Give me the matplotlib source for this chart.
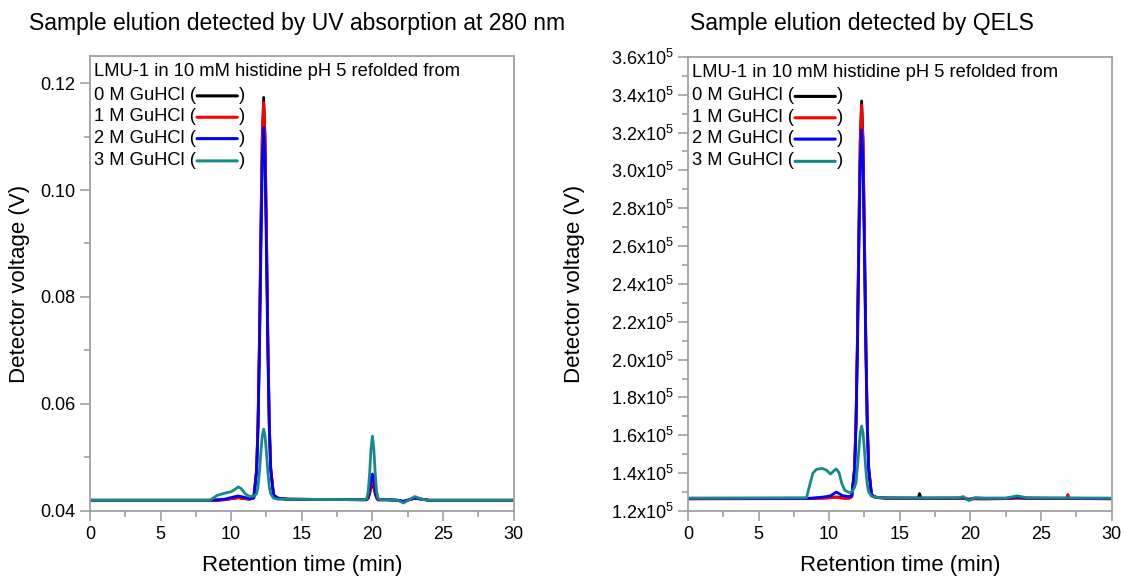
import numpy as np
import matplotlib.pyplot as plt
from matplotlib.ticker import MultipleLocator, FuncFormatter

plt.rcParams['font.family'] = ['Liberation Sans', 'DejaVu Sans']
plt.rcParams['mathtext.fontset'] = 'custom'
plt.rcParams['mathtext.rm'] = 'Liberation Sans'

labels = ['0 M GuHCl (', '1 M GuHCl (', '2 M GuHCl (', '3 M GuHCl (']
colors = ['black', '#ff0000', '#0000ff', '#168a86']
header = 'LMU-1 in 10 mM histidine pH 5 refolded from'

# UV 280 nm traces (V)
t_uv = [0, 8.5, 9.0, 9.5, 10.0, 10.3, 10.5, 10.7, 11.0, 11.3, 11.6, 11.8, 11.9, 12.0,
        12.1, 12.2, 12.3, 12.4, 12.5, 12.6, 12.7, 12.8, 13.0, 13.3, 14.0, 19.5, 19.6,
        19.7, 19.8, 19.9, 20.0, 20.1, 20.2, 20.3, 20.4, 20.6, 21.0, 21.8, 22.2, 22.6,
        23.0, 23.5, 24.0, 30.0]
uv_0m = [0.0420, 0.0420, 0.0420, 0.0421, 0.0423, 0.0424, 0.0425, 0.0424, 0.0423, 0.0422,
         0.0425, 0.0477, 0.0564, 0.0717, 0.0918, 0.1099, 0.1173, 0.1099, 0.0918, 0.0717,
         0.0564, 0.0480, 0.0430, 0.0424, 0.0422, 0.0421, 0.0421, 0.0424, 0.0432, 0.0444,
         0.0450, 0.0444, 0.0432, 0.0424, 0.0421, 0.0421, 0.0421, 0.0420, 0.0418, 0.0421,
         0.0424, 0.0422, 0.0420, 0.0420]
uv_1m = [0.0420, 0.0420, 0.0420, 0.0421, 0.0423, 0.0424, 0.0425, 0.0424, 0.0423, 0.0422,
         0.0425, 0.0476, 0.0562, 0.0714, 0.0913, 0.1091, 0.1164, 0.1091, 0.0913, 0.0714,
         0.0562, 0.0479, 0.0430, 0.0424, 0.0422, 0.0421, 0.0421, 0.0425, 0.0435, 0.0449,
         0.0456, 0.0449, 0.0435, 0.0425, 0.0421, 0.0421, 0.0421, 0.0420, 0.0417, 0.0421,
         0.0424, 0.0422, 0.0420, 0.0420]
uv_2m = [0.0420, 0.0420, 0.0421, 0.0422, 0.0425, 0.0427, 0.0428, 0.0427, 0.0425, 0.0423,
         0.0424, 0.0473, 0.0553, 0.0695, 0.0881, 0.1049, 0.1117, 0.1049, 0.0881, 0.0695,
         0.0553, 0.0476, 0.0429, 0.0424, 0.0422, 0.0421, 0.0422, 0.0427, 0.0440, 0.0459,
         0.0469, 0.0459, 0.0440, 0.0427, 0.0421, 0.0421, 0.0421, 0.0420, 0.0418, 0.0421,
         0.0424, 0.0422, 0.0420, 0.0420]
uv_3m = [0.0420, 0.0420, 0.0429, 0.0433, 0.0436, 0.0441, 0.0445, 0.0442, 0.0432, 0.0427,
         0.0428, 0.0432, 0.0445, 0.0473, 0.0508, 0.0540, 0.0553, 0.0540, 0.0508, 0.0473,
         0.0445, 0.0432, 0.0424, 0.0422, 0.0422, 0.0421, 0.0423, 0.0436, 0.0469, 0.0516,
         0.0540, 0.0516, 0.0469, 0.0436, 0.0423, 0.0421, 0.0421, 0.0420, 0.0415, 0.0421,
         0.0427, 0.0422, 0.0420, 0.0420]

# QELS traces (units of 1e5)
t_qels = [0, 8.4, 8.6, 8.85, 9.1, 9.5, 9.8, 10.1, 10.3, 10.5, 10.7, 10.9, 11.1, 11.4,
          11.6, 11.8, 11.9, 12.0, 12.1, 12.2, 12.3, 12.4, 12.5, 12.6, 12.7, 12.8, 13.0,
          13.3, 14.0, 16.3, 16.4, 16.5, 19.2, 19.5, 19.9, 20.3, 21.0, 22.5, 23.3, 24.0,
          26.8, 26.9, 27.0, 30.0]
qels_0m = [1.265, 1.266, 1.267, 1.267, 1.268, 1.269, 1.270, 1.271, 1.273, 1.274, 1.273,
           1.271, 1.270, 1.269, 1.276, 1.426, 1.668, 2.097, 2.657, 3.161, 3.367, 3.161,
           2.657, 2.097, 1.668, 1.430, 1.285, 1.272, 1.268, 1.267, 1.292, 1.267, 1.267,
           1.268, 1.262, 1.267, 1.266, 1.266, 1.268, 1.267, 1.266, 1.266, 1.266, 1.265]
qels_1m = [1.264, 1.265, 1.265, 1.266, 1.266, 1.267, 1.268, 1.270, 1.271, 1.272, 1.271,
           1.268, 1.266, 1.266, 1.275, 1.424, 1.664, 2.089, 2.644, 3.143, 3.346, 3.143,
           2.644, 2.089, 1.664, 1.428, 1.285, 1.271, 1.267, 1.266, 1.266, 1.266, 1.266,
           1.267, 1.262, 1.264, 1.263, 1.265, 1.272, 1.266, 1.266, 1.287, 1.266, 1.264]
qels_2m = [1.267, 1.266, 1.267, 1.268, 1.270, 1.273, 1.276, 1.280, 1.290, 1.300, 1.292,
           1.283, 1.279, 1.276, 1.280, 1.414, 1.639, 2.036, 2.556, 3.023, 3.214, 3.023,
           2.556, 2.036, 1.639, 1.418, 1.285, 1.273, 1.269, 1.268, 1.268, 1.268, 1.268,
           1.270, 1.258, 1.268, 1.267, 1.267, 1.274, 1.268, 1.267, 1.267, 1.267, 1.266]
qels_3m = [1.268, 1.270, 1.330, 1.400, 1.420, 1.425, 1.416, 1.395, 1.410, 1.422, 1.402,
           1.345, 1.310, 1.298, 1.300, 1.325, 1.350, 1.430, 1.520, 1.612, 1.649, 1.612,
           1.520, 1.418, 1.340, 1.300, 1.278, 1.272, 1.270, 1.269, 1.269, 1.269, 1.270,
           1.276, 1.255, 1.270, 1.268, 1.268, 1.280, 1.270, 1.269, 1.269, 1.269, 1.268]

fig = plt.figure(figsize=(11.24, 5.8), dpi=100)
ax1 = fig.add_axes([0.080, 0.119, 0.377, 0.784])
ax2 = fig.add_axes([0.612, 0.119, 0.377, 0.783])

for y, c in zip([uv_0m, uv_1m, uv_2m, uv_3m], colors):
    ax1.plot(t_uv, y, color=c, lw=2.0)
for y, c in zip([qels_0m, qels_1m, qels_2m, qels_3m], colors):
    ax2.plot(t_qels, np.array(y) * 1e5, color=c, lw=2.0)


def style(ax):
    ax.set_xlim(0, 30)
    ax.xaxis.set_major_locator(MultipleLocator(5))
    ax.xaxis.set_minor_locator(MultipleLocator(2.5))
    for s in ax.spines.values():
        s.set_color('#a0a0a0')
        s.set_linewidth(1.3)
    ax.tick_params(which='both', direction='out', color='#a0a0a0', width=1.2,
                   labelsize=13, top=False, right=False)
    ax.tick_params(which='major', length=7)
    ax.tick_params(which='minor', length=4)
    ax.set_xlabel('Retention time (min)', fontsize=16)
    ax.set_ylabel('Detector voltage (V)', fontsize=16)
    ax.xaxis.set_label_coords(0.5, -0.097)
    # header text + line legend
    ax.text(0.009, 0.966, header, transform=ax.transAxes, fontsize=13.25, va='center')
    rows = [0.914, 0.867, 0.820, 0.771]
    for lab, c, ry in zip(labels, colors, rows):
        t = ax.text(0.009, ry, lab, transform=ax.transAxes, fontsize=13.25, va='center')
        ax.annotate('', xy=(1, 0.47), xycoords=t, xytext=(30, 0), textcoords='offset points',
                    arrowprops=dict(arrowstyle='-', color=c, lw=2.2, shrinkA=0, shrinkB=1))
        ax.annotate(')', xy=(1, 0), xycoords=t, xytext=(31, 0), textcoords='offset points',
                    fontsize=13.25, ha='left', va='bottom')


style(ax1)
style(ax2)

ax1.set_ylim(0.04, 0.125)
ax1.yaxis.set_major_locator(MultipleLocator(0.02))
ax1.yaxis.set_minor_locator(MultipleLocator(0.01))
ax1.yaxis.set_major_formatter(FuncFormatter(lambda v, _: f'{v:.2f}'))
ax1.yaxis.set_label_coords(-0.142, 0.5)

ax2.set_ylim(1.2e5, 3.6e5)
ax2.yaxis.set_major_locator(MultipleLocator(0.2e5))
ax2.yaxis.set_minor_locator(MultipleLocator(0.1e5))
ax2.yaxis.set_major_formatter(FuncFormatter(lambda v, _: r'$\mathregular{%.1fx10^{5}}$' % (v / 1e5)))
ax2.yaxis.set_label_coords(-0.243, 0.5)

fig.text(0.264, 0.960, 'Sample elution detected by UV absorption at 280 nm', fontsize=16.5,
         ha='center', va='center')
fig.text(0.767, 0.960, 'Sample elution detected by QELS', fontsize=16.5,
         ha='center', va='center')

fig.savefig('out.png', dpi=100)
